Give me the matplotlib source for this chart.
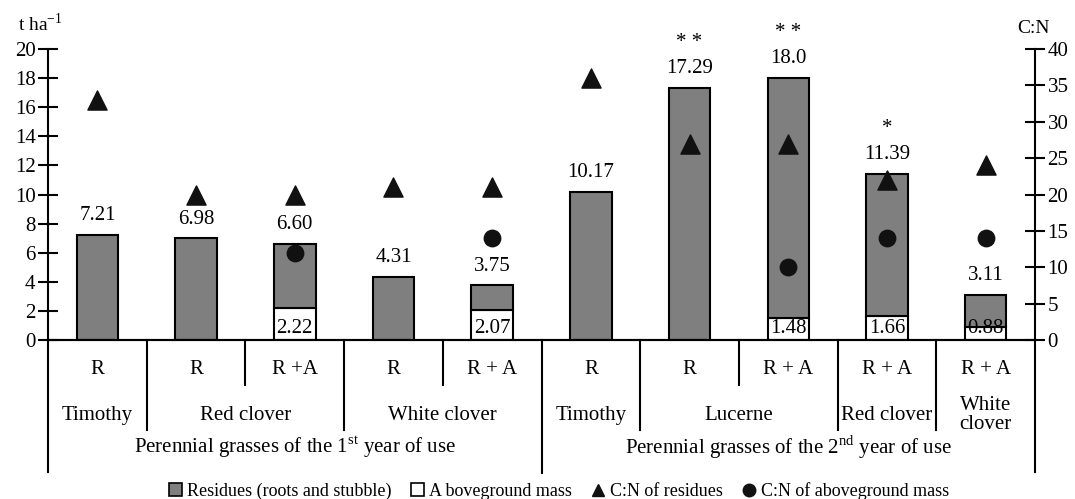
import numpy as np
import matplotlib.pyplot as plt
from matplotlib.lines import Line2D
from matplotlib.patches import Patch

plt.rcParams['font.family'] = ['Liberation Serif', 'DejaVu Serif']
plt.rcParams['mathtext.fontset'] = 'custom'
plt.rcParams['mathtext.rm'] = 'Liberation Serif'

# data
treat = ['R', 'R', 'R +A', 'R', 'R + A', 'R', 'R', 'R + A', 'R + A', 'R + A']
species = ['Timothy', 'Red clover', 'White clover', 'Timothy', 'Lucerne', 'Red clover', 'White\nclover']
species_span = [1, 2, 2, 1, 2, 1, 1]
years = ['Perennial grasses of the 1$^{\\mathrm{st}}$ year of use',
         'Perennial grasses of the 2$^{\\mathrm{nd}}$ year of use']
years_span = [5, 5]

total = [7.21, 6.98, 6.60, 4.31, 3.75, 10.17, 17.29, 18.0, 11.39, 3.11]
total_lbl = ['7.21', '6.98', '6.60', '4.31', '3.75', '10.17', '17.29', '18.0', '11.39', '3.11']
above = [0, 0, 2.22, 0, 2.07, 0, 0, 1.48, 1.66, 0.88]
above_lbl = ['', '', '2.22', '', '2.07', '', '', '1.48', '1.66', '0.88']
stars = ['', '', '', '', '', '', '* *', '* *', '*', '']
cn_res = [33, 20, 20, 21, 21, 36, 27, 27, 22, 24]
cn_above = [np.nan, np.nan, 12, np.nan, 14, np.nan, np.nan, 10, 14, 14]

residues = [t - a for t, a in zip(total, above)]
x = np.arange(len(total))

fig = plt.figure(figsize=(10.75, 4.99), dpi=100)
ax = fig.add_axes([0.0447, 0.3186, 0.9181, 0.5832])
ax2 = ax.twinx()

grey = '#7f7f7f'
w = 0.42
ax.bar(x, above, w, color='white', edgecolor='black', linewidth=1.5, zorder=2)
ax.bar(x, residues, w, bottom=above, color=grey, edgecolor='black', linewidth=1.5, zorder=2)

for i in x:
    ax.annotate(total_lbl[i], (i, total[i]), xytext=(0, 14), textcoords='offset points',
                ha='center', va='center', fontsize=15)
    if stars[i]:
        ax.annotate(stars[i], (i, total[i]), xytext=(0, 33), textcoords='offset points',
                    ha='center', va='center', fontsize=15)
    if above_lbl[i]:
        ax.annotate(above_lbl[i], (i, 0), xytext=(0, 1.5), textcoords='offset points',
                    ha='center', va='bottom', fontsize=15)

ax2.scatter(x, cn_res, marker='^', s=190, color='#111111', zorder=4)
ax2.scatter(x, cn_above, marker='o', s=140, color='#111111', zorder=4)

ax.set_xlim(-0.5, len(x) - 0.5)
ax.set_ylim(0, 20)
ax2.set_ylim(0, 40)
ax.set_yticks(np.arange(0, 21, 2))
ax2.set_yticks(np.arange(0, 41, 5))
ax.set_xticks([])
for a in (ax, ax2):
    a.tick_params(axis='y', direction='inout', length=14, width=1.5, labelsize=15, pad=2)
    a.spines['top'].set_visible(False)
    a.spines['left'].set_linewidth(1.5)
    a.spines['right'].set_linewidth(1.5)
    a.spines['bottom'].set_linewidth(1.5)
    a.spines['left'].set_bounds(-9.1, 20)
    a.spines['right'].set_bounds(-18.2, 40)
ax2.spines['left'].set_visible(False)
ax.spines['right'].set_visible(False)
ax.set_zorder(ax2.get_zorder() - 1)
ax2.patch.set_visible(False)

ax.text(-0.008, 1.085, 't ha$^{\\mathrm{-1}}$', transform=ax.transAxes, ha='center', va='center', fontsize=14)
ax.text(0.998, 1.07, 'C:N', transform=ax.transAxes, ha='center', va='center', fontsize=14)

trans = ax.get_xaxis_transform()
# level 1
for i, t in enumerate(treat):
    ax.text(i, -0.103, t, transform=trans, ha='center', va='center', fontsize=15)
# separators and level 2 / 3 labels
y1, y2, y3 = -0.155, -0.309, -0.457
edges2 = np.cumsum([0] + species_span) - 0.5
edges3 = np.cumsum([0] + years_span) - 0.5
for b in np.arange(0.5, len(x) - 1, 1.0):
    bottom = y1
    if np.any(np.isclose(edges2, b)):
        bottom = y2
    if np.any(np.isclose(edges3, b)):
        bottom = y3
    ax.plot([b, b], [0, bottom], transform=trans, color='black', lw=1.5, clip_on=False)
for k, s in enumerate(species):
    c = (edges2[k] + edges2[k + 1]) / 2
    ax.text(c, -0.258, s, transform=trans, ha='center', va='center', fontsize=15, linespacing=1.0)
for k, s in enumerate(years):
    c = (edges3[k] + edges3[k + 1]) / 2
    ax.text(c, -0.368, s, transform=trans, ha='center', va='center', fontsize=15)

handles = [Patch(facecolor=grey, edgecolor='black', linewidth=1.2),
           Patch(facecolor='white', edgecolor='black', linewidth=1.2),
           Line2D([], [], marker='^', color='#111111', linestyle='none', markersize=9),
           Line2D([], [], marker='o', color='#111111', linestyle='none', markersize=9)]
labels = ['Residues (roots and stubble)', 'A boveground mass', 'C:N of residues', 'C:N of aboveground mass']
fig.legend(handles, labels, loc='center', bbox_to_anchor=(0.52, 0.016), ncol=4, frameon=False,
           fontsize=13, handlelength=0.7, handleheight=0.7, handletextpad=0.3, columnspacing=1.1)

fig.savefig('out.png', dpi=100)
